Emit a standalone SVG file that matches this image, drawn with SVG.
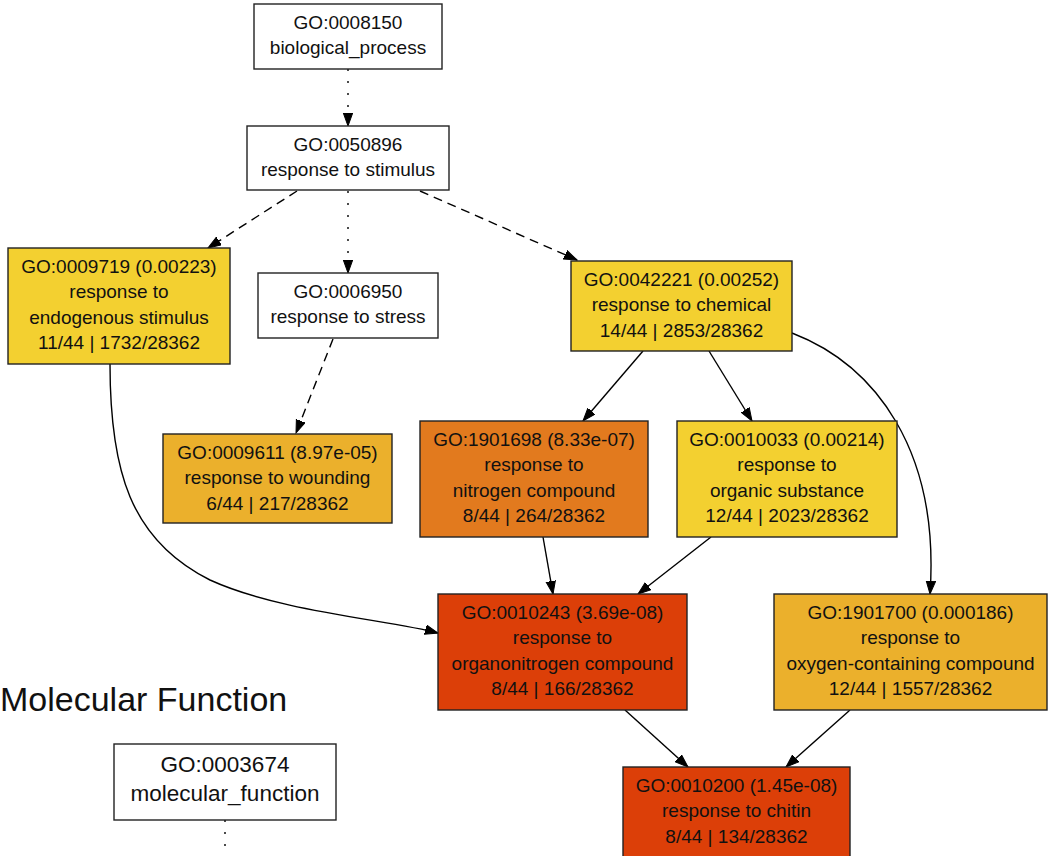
<svg xmlns="http://www.w3.org/2000/svg" width="1048" height="856" viewBox="0 0 1048 856">
<defs>
<marker id="arr" markerUnits="userSpaceOnUse" markerWidth="14" markerHeight="11" refX="13" refY="5" orient="auto">
<path d="M0,0.3 L13,5 L0,9.7 z" fill="#000" stroke="#000" stroke-width="1"/>
</marker>
<style>
.n rect{stroke:#222;stroke-width:1.4}
.n text{font-family:"Liberation Sans",Arial,sans-serif;font-size:19px;fill:#111;text-anchor:middle}
.w{fill:#fff}.y{fill:#f3d030}.g{fill:#ebb02c}.o{fill:#e27a1e}.r{fill:#dc3f08}
#edges path{fill:none;stroke:#000;stroke-width:1.4}
.dot{stroke-dasharray:2 10}
.dash{stroke-dasharray:9 6}
.a{marker-end:url(#arr)}
</style>
</defs>
<rect width="1048" height="856" fill="#fff"/>
<g id="edges">
<path class="dot a" d="M348,69 L348,126"/>
<path class="dash a" d="M297,191 L208,248"/>
<path class="dot a" d="M348,191 L348,273"/>
<path class="dash a" d="M420,191 L577,260"/>
<path class="dash a" d="M333,339 L296,433"/>
<path class="a" d="M110,364 C110,470 130,540 210,580 C280,612 390,620 438,633"/>
<path class="a" d="M643,351 L583,421"/>
<path class="a" d="M709,351 L752,421"/>
<path class="a" d="M792,333 C875,365 940,450 930,594"/>
<path class="a" d="M543,537 L553,594"/>
<path class="a" d="M711,537 L638,594"/>
<path class="a" d="M625,710 L688,767"/>
<path class="a" d="M850,710 L786,767"/>
<path class="dot" d="M225,820 L225,860"/>
</g>
<g id="GO0008150" class="n"><rect class="w" x="254" y="4" width="188" height="65"/><text x="348" y="29">GO:0008150</text><text x="348" y="54">biological_process</text></g>
<g id="GO0050896" class="n"><rect class="w" x="247" y="126" width="202" height="64"/><text x="348" y="151">GO:0050896</text><text x="348" y="176">response to stimulus</text></g>
<g id="GO0009719" class="n"><rect class="y" x="8" y="248" width="222" height="116"/><text x="119" y="273">GO:0009719 (0.00223)</text><text x="119" y="298">response to</text><text x="119" y="324">endogenous stimulus</text><text x="119" y="349">11/44 | 1732/28362</text></g>
<g id="GO0006950" class="n"><rect class="w" x="258" y="273" width="180" height="65"/><text x="348" y="298">GO:0006950</text><text x="348" y="323">response to stress</text></g>
<g id="GO0009611" class="n"><rect class="g" x="163" y="434" width="229" height="89"/><text x="277.5" y="459">GO:0009611 (8.97e-05)</text><text x="277.5" y="484">response to wounding</text><text x="277.5" y="510">6/44 | 217/28362</text></g>
<g id="GO0042221" class="n"><rect class="y" x="571" y="261" width="221" height="90"/><text x="681.5" y="286">GO:0042221 (0.00252)</text><text x="681.5" y="311">response to chemical</text><text x="681.5" y="337">14/44 | 2853/28362</text></g>
<g id="GO1901698" class="n"><rect class="o" x="420" y="421" width="228" height="116"/><text x="534" y="446">GO:1901698 (8.33e-07)</text><text x="534" y="471">response to</text><text x="534" y="497">nitrogen compound</text><text x="534" y="522">8/44 | 264/28362</text></g>
<g id="GO0010033" class="n"><rect class="y" x="677" y="421" width="220" height="116"/><text x="787" y="446">GO:0010033 (0.00214)</text><text x="787" y="471">response to</text><text x="787" y="497">organic substance</text><text x="787" y="522">12/44 | 2023/28362</text></g>
<g id="GO0010243" class="n"><rect class="r" x="438" y="594" width="249" height="116"/><text x="562.5" y="619">GO:0010243 (3.69e-08)</text><text x="562.5" y="644">response to</text><text x="562.5" y="670">organonitrogen compound</text><text x="562.5" y="695">8/44 | 166/28362</text></g>
<g id="GO1901700" class="n"><rect class="g" x="774" y="594" width="273" height="116"/><text x="910.5" y="619">GO:1901700 (0.000186)</text><text x="910.5" y="644">response to</text><text x="910.5" y="670">oxygen-containing compound</text><text x="910.5" y="695">12/44 | 1557/28362</text></g>
<g id="GO0010200" class="n"><rect class="r" x="623" y="767" width="227" height="92"/><text x="736.5" y="792">GO:0010200 (1.45e-08)</text><text x="736.5" y="817">response to chitin</text><text x="736.5" y="843">8/44 | 134/28362</text></g>
<text x="0" y="711" font-family="Liberation Sans, Arial, sans-serif" font-size="34" fill="#111">Molecular Function</text>
<g id="GO0003674" class="n"><rect class="w" x="114" y="744" width="222" height="76"/><text x="225" y="772" style="font-size:22.5px">GO:0003674</text><text x="225" y="801" style="font-size:22.5px">molecular_function</text></g>
</svg>
